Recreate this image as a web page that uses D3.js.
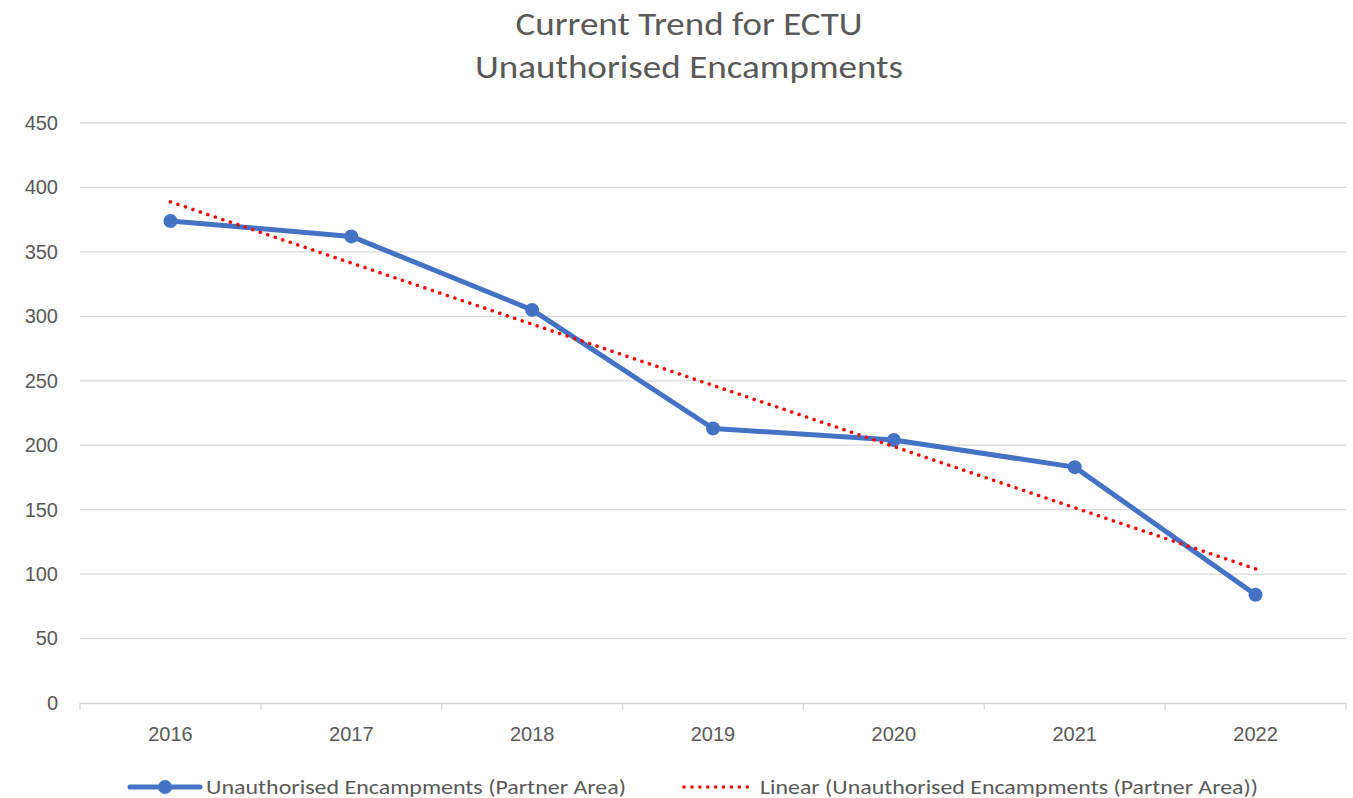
<!DOCTYPE html>
<html>
<head>
<meta charset="utf-8">
<script src="https://cdn.jsdelivr.net/npm/d3@7"></script>
<style>
  html, body { margin: 0; padding: 0; background: #fff; }
  svg { display: block; font-family: Calibri, Carlito, Lato, "Open Sans", "Liberation Sans", sans-serif; }
</style>
</head>
<body>
<svg id="chart" width="1353" height="798"></svg>
<script>
const TITLE_LINES = ["Current Trend for ECTU", "Unauthorised Encampments"];
const YEARS = ["2016", "2017", "2018", "2019", "2020", "2021", "2022"];
const ENCAMPMENTS = [374, 362, 305, 213, 204, 183, 84];
const Y_TICKS = [0, 50, 100, 150, 200, 250, 300, 350, 400, 450];
const SERIES_NAME = "Unauthorised Encampments (Partner Area)";
const TREND_NAME = "Linear (Unauthorised Encampments (Partner Area))";

const BLUE = "#4472C4";
const RED = "#FF0000";
const TEXT = "#595959";
const GRID = "#d9d9d9";

const svg = d3.select("#chart");
const plot = { left: 80, right: 1346, top: 123, bottom: 703 };

const x = d3.scaleBand().domain(YEARS).range([plot.left, plot.right]);
const y = d3.scaleLinear().domain([0, 450]).range([plot.bottom, plot.top]);
const cx = (d) => x(d) + x.bandwidth() / 2;

// title (source font is wider than what we have, so stretch to its width)
const titleWidths = [347, 428];
svg.append("g")
  .selectAll("text")
  .data(TITLE_LINES)
  .join("text")
  .attr("x", 689)
  .attr("y", (d, i) => 35 + i * 43)
  .attr("text-anchor", "middle")
  .attr("fill", TEXT)
  .attr("font-size", 32)
  .attr("textLength", (d, i) => titleWidths[i])
  .attr("lengthAdjust", "spacingAndGlyphs")
  .text((d) => d);

// gridlines
svg.append("g")
  .selectAll("line")
  .data(Y_TICKS.filter((v) => v > 0))
  .join("line")
  .attr("x1", plot.left)
  .attr("x2", plot.right)
  .attr("y1", (d) => y(d))
  .attr("y2", (d) => y(d))
  .attr("stroke", GRID)
  .attr("stroke-width", 1.3);

// y axis labels
const yAxis = svg.append("g")
  .attr("transform", `translate(${plot.left},0)`)
  .call(d3.axisLeft(y).tickValues(Y_TICKS).tickSize(0).tickPadding(22));
yAxis.select(".domain").remove();
yAxis.selectAll("text")
  .attr("fill", TEXT)
  .attr("font-size", 20)
  .attr("font-family", null);

// x axis
const xAxis = svg.append("g")
  .attr("transform", `translate(0,${plot.bottom})`)
  .call(d3.axisBottom(x).tickSize(0).tickPadding(24));
xAxis.select(".domain").attr("stroke", GRID).attr("stroke-width", 1.3);
xAxis.selectAll("text").attr("fill", TEXT).attr("font-size", 20).attr("font-family", null);
const bounds = YEARS.map((d) => x(d)).concat([plot.right]);
xAxis.selectAll("line.bound")
  .data(bounds)
  .join("line")
  .attr("class", "bound")
  .attr("x1", (d) => d)
  .attr("x2", (d) => d)
  .attr("y1", 0)
  .attr("y2", 7)
  .attr("stroke", GRID)
  .attr("stroke-width", 1.3);

// linear trendline (least squares, like the spreadsheet's)
const n = ENCAMPMENTS.length;
const xs = d3.range(1, n + 1);
const mx = d3.mean(xs), my = d3.mean(ENCAMPMENTS);
const slope = d3.sum(xs, (v, i) => (v - mx) * (ENCAMPMENTS[i] - my)) / d3.sum(xs, (v) => (v - mx) ** 2);
const trend = YEARS.map((d, i) => my + slope * (xs[i] - mx));

// series line
svg.append("path")
  .datum(ENCAMPMENTS)
  .attr("fill", "none")
  .attr("stroke", BLUE)
  .attr("stroke-width", 5)
  .attr("stroke-linejoin", "round")
  .attr("d", d3.line().x((d, i) => cx(YEARS[i])).y((d) => y(d)));

svg.append("g")
  .selectAll("circle")
  .data(ENCAMPMENTS)
  .join("circle")
  .attr("cx", (d, i) => cx(YEARS[i]))
  .attr("cy", (d) => y(d))
  .attr("r", 7)
  .attr("fill", BLUE);

svg.append("path")
  .datum(trend)
  .attr("fill", "none")
  .attr("stroke", RED)
  .attr("stroke-width", 3.5)
  .attr("stroke-linecap", "round")
  .attr("stroke-dasharray", "0.1 7.8")
  .attr("d", d3.line().x((d, i) => cx(YEARS[i])).y((d) => y(d)));

// legend
const legend = svg.append("g").attr("transform", "translate(0,787)");
legend.append("line")
  .attr("x1", 130).attr("x2", 200).attr("y1", 0).attr("y2", 0)
  .attr("stroke", BLUE).attr("stroke-width", 5).attr("stroke-linecap", "round");
legend.append("circle").attr("cx", 165).attr("cy", 0).attr("r", 7).attr("fill", BLUE);
legend.append("text")
  .attr("x", 206).attr("y", 7)
  .attr("fill", TEXT).attr("font-size", 20)
  .attr("textLength", 420).attr("lengthAdjust", "spacingAndGlyphs")
  .text(SERIES_NAME);
legend.append("line")
  .attr("x1", 684).attr("x2", 754).attr("y1", 0).attr("y2", 0)
  .attr("stroke", RED).attr("stroke-width", 3.5).attr("stroke-linecap", "round")
  .attr("stroke-dasharray", "0.1 7.8");
legend.append("text")
  .attr("x", 760).attr("y", 7)
  .attr("fill", TEXT).attr("font-size", 20)
  .attr("textLength", 498).attr("lengthAdjust", "spacingAndGlyphs")
  .text(TREND_NAME);
</script>
</body>
</html>
